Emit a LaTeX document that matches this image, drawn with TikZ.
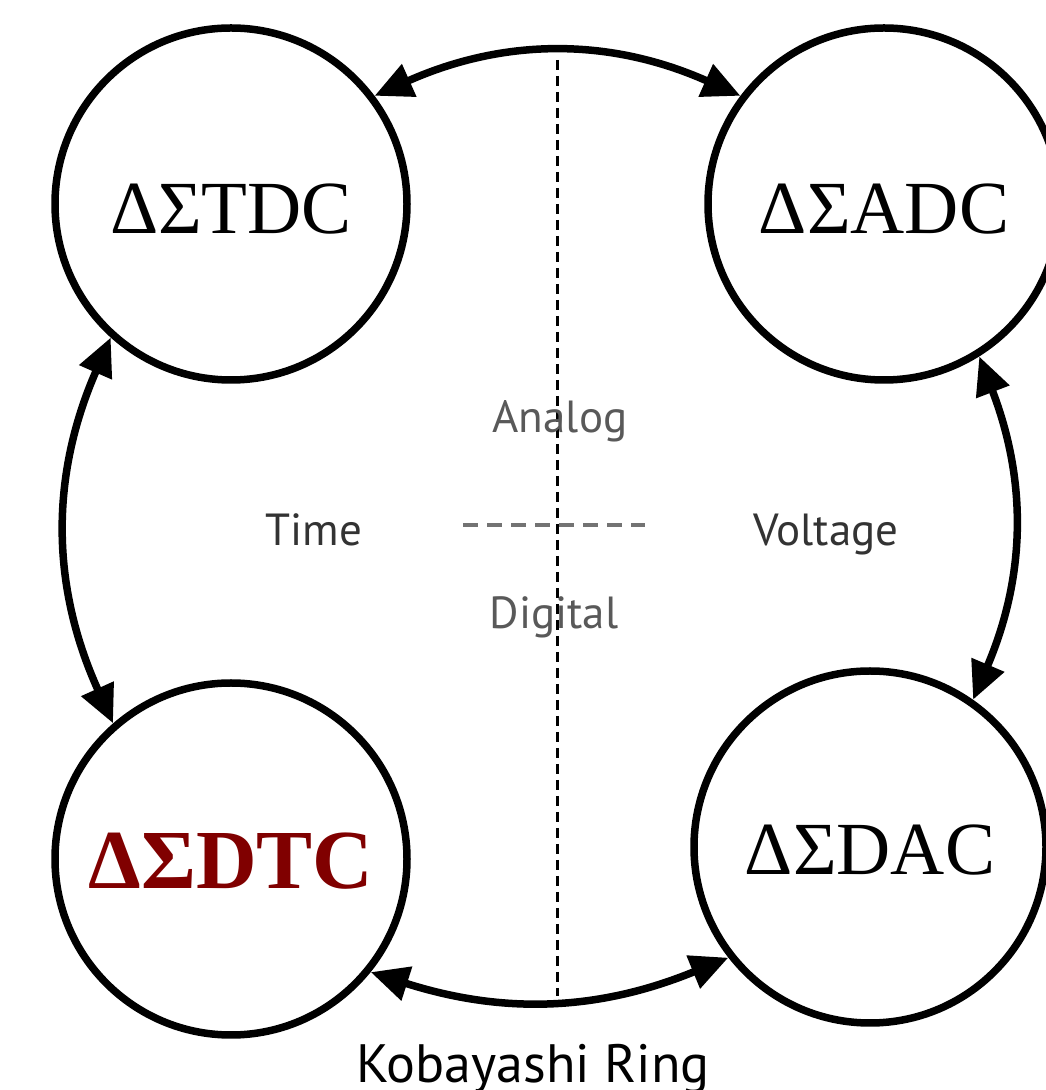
\documentclass[tikz,border=0pt]{standalone}
\usepackage{fontspec}
\setmainfont{Liberation Serif}
\newfontfamily\labfont{PT Sans}
\usetikzlibrary{arrows.meta}
\definecolor{darkred}{HTML}{800000}
\newcommand{\lowertext}[2]{\raisebox{-#1}[\height][0pt]{#2}}
\begin{document}
\begin{tikzpicture}[x=1pt,y=1pt,
  conv/.style={circle, draw, line width=7.5pt, minimum size=352pt, inner sep=0pt, font=\fontsize{75}{77}\selectfont},
  ring/.style={line width=7.5pt, {Triangle[length=38pt,width=34pt]}-{Triangle[length=38pt,width=34pt]}},
  lab/.style={font=\labfont\fontsize{45}{47}\selectfont, anchor=base},
  divider/.style={line width=3pt, dash pattern=on 10pt off 6pt},
  axis/.style={line width=4pt, dash pattern=on 15pt off 9pt, black!55}
]
\useasboundingbox (0,0) rectangle (1046,1090);
\node[conv] (tdc) at (231,886) {\lowertext{5pt}{ΔΣTDC}};
\node[conv] (adc) at (884,886) {\lowertext{5pt}{ΔΣADC}};
\node[conv, font=\fontsize{84}{86}\selectfont\bfseries, text=darkred] (dtc) at (231,231) {\lowertext{2pt}{ΔΣDTC}};
\node[conv] (dac) at (870,243) {\lowertext{3pt}{ΔΣDAC}};

\draw[ring] (tdc.37) to[bend left=24] (adc.143);
\draw[ring] (tdc.228) to[bend right=24] (dtc.131);
\draw[ring] (adc.302) to[bend left=22] (dac.55);
\draw[ring] (dtc.321) to[bend right=20] (dac.218);

\coordinate (vtop) at (557,1030);
\coordinate (vbot) at (557,94);
\coordinate (hl) at (463,565);
\coordinate (hr) at (645,565);
\draw[axis] (hl) -- (hr);
\draw[divider] (vtop) -- (vbot);

\node[lab, text=black!65] (analog) at (560,657) {Analog};
\node[lab, text=black!65] (digital) at (554,461) {Digital};
\node[lab, text=black!80] (time) at (314,544) {Time};
\node[lab, text=black!80] (voltage) at (826,544) {Voltage};
\node[lab, font=\labfont\fontsize{54}{56}\selectfont] (ring) at (533,8) {Kobayashi Ring};
\end{tikzpicture}
\end{document}
